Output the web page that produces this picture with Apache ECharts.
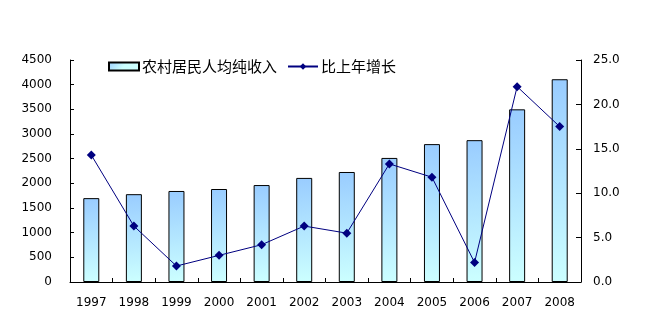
<!DOCTYPE html>
<html>
<head>
<meta charset="utf-8">
<script src="https://cdn.jsdelivr.net/npm/echarts@6/dist/echarts.min.js"></script>
<style>
  html, body { margin: 0; padding: 0; background: #fff; }
  #chart { width: 648px; height: 334px; }
</style>
</head>
<body>
<div id="chart"></div>
<script>
// Rural residents' per-capita net income (yuan) and year-on-year growth (%)
var years = ['1997', '1998', '1999', '2000', '2001', '2002', '2003', '2004', '2005', '2006', '2007', '2008'];
var income = [1700, 1780, 1845, 1885, 1965, 2110, 2230, 2515, 2795, 2875, 3500, 4110];
var growth = [14.3, 6.3, 1.8, 3.0, 4.2, 6.3, 5.5, 13.3, 11.8, 2.2, 22.0, 17.5];
var leftTicks = { min: 0, max: 4500, interval: 500 };
var rightTicks = { min: 0, max: 25, interval: 5 };

var chart = echarts.init(document.getElementById('chart'), null, { renderer: 'canvas' });

var labelFont = { color: '#000', fontSize: 12, fontFamily: 'DejaVu Sans, sans-serif' };

chart.setOption({
  animation: false,
  backgroundColor: '#fff',
  grid: { left: 70, right: 67, top: 60, bottom: 52, containLabel: false },
  legend: {
    left: 103,
    top: 54,
    itemGap: 10,
    itemWidth: 30,
    itemHeight: 8,
    textStyle: { color: '#000', fontSize: 15, fontFamily: 'Noto Sans CJK SC, sans-serif', padding: [0, 0, 0, -2] },
    data: [
      { name: '农村居民人均纯收入', icon: 'rect' },
      { name: '比上年增长' }
    ]
  },
  xAxis: {
    type: 'category',
    data: years,
    boundaryGap: true,
    axisLine: { lineStyle: { color: '#000', width: 1 } },
    axisTick: { show: true, inside: true, length: 4, lineStyle: { color: '#000' } },
    axisLabel: Object.assign({ margin: 15 }, labelFont),
    splitLine: { show: false }
  },
  yAxis: [
    {
      type: 'value',
      min: leftTicks.min,
      max: leftTicks.max,
      interval: leftTicks.interval,
      axisLine: { show: true, lineStyle: { color: '#000', width: 1 } },
      axisTick: { show: true, inside: true, length: 4, lineStyle: { color: '#000' } },
      axisLabel: Object.assign({ margin: 18, formatter: function (v) { return String(v); } }, labelFont),
      splitLine: { show: false }
    },
    {
      type: 'value',
      min: rightTicks.min,
      max: rightTicks.max,
      interval: rightTicks.interval,
      position: 'right',
      axisLine: { show: true, lineStyle: { color: '#000', width: 1 } },
      axisTick: { show: true, inside: true, length: 5, lineStyle: { color: '#000' } },
      axisLabel: Object.assign({ margin: 12, formatter: function (v) { return v.toFixed(1); } }, labelFont),
      splitLine: { show: false }
    }
  ],
  series: [
    {
      name: '农村居民人均纯收入',
      type: 'bar',
      yAxisIndex: 0,
      data: income,
      barWidth: 16,
      itemStyle: {
        color: new echarts.graphic.LinearGradient(0, 0, 0.35, 1, [
          { offset: 0, color: '#99CCFF' },
          { offset: 1, color: '#CCFFFF' }
        ]),
        borderColor: '#000',
        borderWidth: 1
      }
    },
    {
      name: '比上年增长',
      type: 'line',
      yAxisIndex: 1,
      data: growth,
      symbol: 'diamond',
      symbolSize: 9,
      lineStyle: { color: '#000080', width: 1 },
      itemStyle: { color: '#000080' },
      z: 5
    }
  ]
});
</script>
</body>
</html>
